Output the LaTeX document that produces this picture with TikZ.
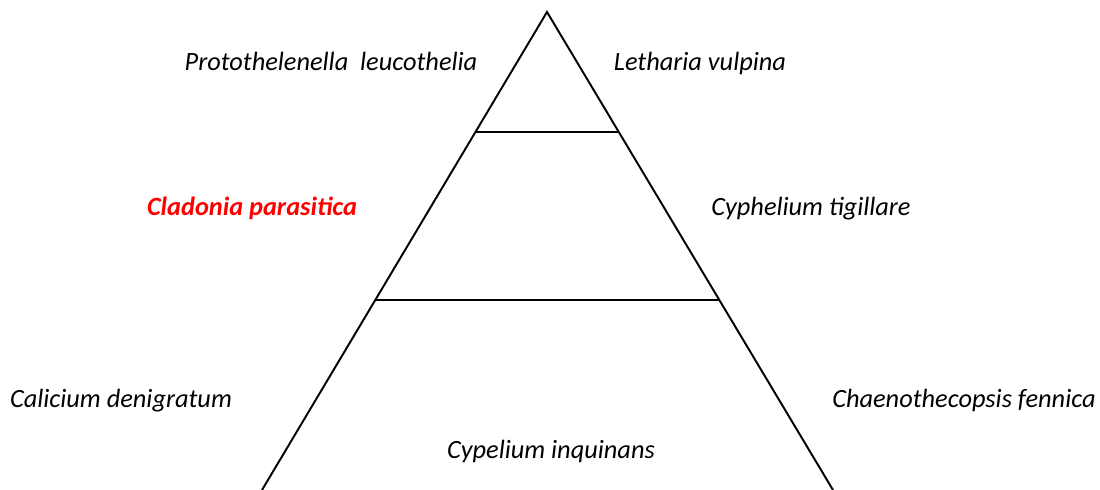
\documentclass[tikz,border=0pt]{standalone}
\usepackage{fontspec}
\setmainfont{Carlito}
\usetikzlibrary{calc}
\tikzset{
  sp/.style={font=\fontsize{15}{18}\selectfont\itshape,anchor=base,inner sep=0pt},
  spred/.style={sp,font=\fontsize{15}{18}\selectfont\bfseries\itshape,text=red},
  edge/.style={line width=1.1pt}
}

\begin{document}
\begin{tikzpicture}[x=0.02cm,y=-0.02cm]
  \useasboundingbox (0,0) rectangle (1100,490);
  % pyramid
  \coordinate (apex) at (547,12);
  \coordinate (bl) at (262,490);
  \coordinate (br) at (833,490);
  \draw[edge] (bl) -- (apex) -- (br);
  \draw[edge] ($(apex)!{120/478}!(bl)$) -- ($(apex)!{120/478}!(br)$);
  \draw[edge] ($(apex)!{288/478}!(bl)$) -- ($(apex)!{288/478}!(br)$);

  % species
  \node[sp] (proto) at (331,71) {Protothelenella~~leucothelia};
  \node[sp] (leth) at (700,71) {Letharia vulpina};
  \node[spred] (clad) at (252,215) {Cladonia parasitica};
  \node[sp] (cyph) at (811,215) {Cyphelium tigillare};
  \node[sp] (cali) at (121,407) {Calicium denigratum};
  \node[sp] (chae) at (964,407) {Chaenothecopsis fennica};
  \node[sp] (cype) at (551,458) {Cypelium inquinans};
\end{tikzpicture}
\end{document}
